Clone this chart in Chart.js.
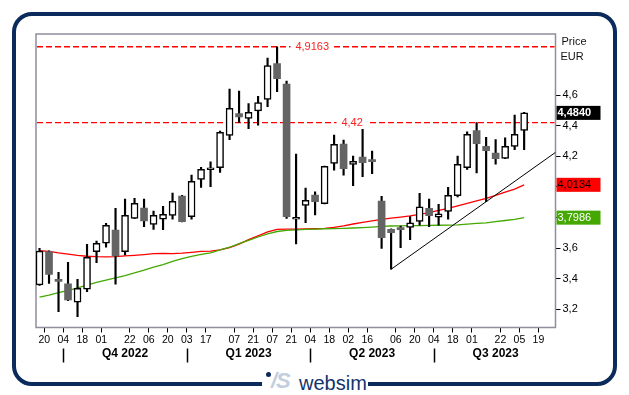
<!DOCTYPE html>
<html><head><meta charset="utf-8">
<script src="https://cdn.jsdelivr.net/npm/chart.js@4.4.0/dist/chart.umd.min.js"></script>
<style>
html,body{margin:0;padding:0;background:#fff;width:629px;height:395px;overflow:hidden;font-family:"Liberation Sans",Arial,sans-serif;}
#frame{position:absolute;left:12px;top:12px;width:597px;height:366px;border:4px solid #0b2b5c;border-radius:20px;}
#gap{position:absolute;left:262px;top:376px;width:106px;height:14px;background:#fff;}
.dot{position:absolute;left:266px;top:372px;width:5px;height:5px;border-radius:50%;background:#0b2b5c;}
.mark{position:absolute;left:271px;top:370px;font:italic bold 22px/22px "Liberation Sans",Arial,sans-serif;color:#c3cedd;letter-spacing:-1px;}
.word{position:absolute;left:299px;top:372px;font:20px/22px "Liberation Sans",Arial,sans-serif;color:#13336a;}
#c{position:absolute;left:0;top:0;}
</style></head>
<body>
<div id="frame"></div>
<div id="gap"></div>
<span class="dot"></span><span class="mark">/S</span><span class="word">websim</span>
<canvas id="c" width="629" height="395"></canvas>
<script>
// Weekly candles (index = week number)
const open  = [3.358,3.576,3.392,3.365,3.245,3.330,3.576,3.631,3.718,3.576,3.794,3.861,3.755,3.788,3.814,3.940,3.805,4.049,4.112,4.125,4.336,4.480,4.448,4.497,4.572,4.807,4.672,3.788,3.879,3.946,3.890,4.154,4.280,4.147,4.195,4.173,3.907,3.722,3.731,3.735,3.774,3.859,3.801,3.840,3.942,4.125,4.369,4.265,4.221,4.186,4.265,4.369];
const high  = [3.598,3.582,3.441,3.506,3.395,3.624,3.646,3.761,3.859,3.920,3.925,3.920,3.842,3.872,3.959,3.944,4.077,4.127,4.164,4.365,4.639,4.626,4.545,4.593,4.842,4.9163,4.692,4.214,3.992,3.968,4.136,4.339,4.306,4.201,4.376,4.234,3.938,3.725,3.744,3.805,3.957,3.920,3.886,3.997,4.201,4.360,4.420,4.324,4.310,4.321,4.469,4.487];
const low   = [3.356,3.369,3.184,3.255,3.151,3.315,3.504,3.605,3.363,3.554,3.792,3.739,3.722,3.720,3.788,3.770,3.788,3.997,4.001,4.095,4.308,4.421,4.380,4.404,4.524,4.622,3.794,3.626,3.765,3.816,3.888,4.110,4.077,4.007,4.066,4.086,3.598,3.461,3.602,3.654,3.750,3.739,3.750,3.788,3.935,4.114,4.092,3.903,4.149,4.184,4.243,4.243];
const close = [3.580,3.428,3.382,3.260,3.337,3.539,3.631,3.748,3.548,3.814,3.892,3.778,3.814,3.820,3.905,3.772,4.036,4.114,4.116,4.356,4.513,4.458,4.487,4.552,4.794,4.707,3.805,3.801,3.912,3.903,4.134,4.278,4.119,4.167,4.158,4.165,3.667,3.700,3.720,3.765,3.870,3.811,3.824,3.944,4.147,4.343,4.282,4.236,4.184,4.265,4.343,4.484];
// Moving averages
const maRed   = [3.582,3.578,3.568,3.560,3.552,3.546,3.543,3.542,3.543,3.548,3.552,3.557,3.563,3.565,3.563,3.566,3.572,3.578,3.580,3.588,3.602,3.625,3.655,3.680,3.705,3.722,3.724,3.724,3.725,3.726,3.728,3.735,3.745,3.757,3.767,3.777,3.788,3.795,3.802,3.810,3.820,3.832,3.846,3.860,3.876,3.892,3.909,3.925,3.945,3.965,3.985,4.0134];
const maGreen = [3.279,3.292,3.308,3.322,3.340,3.358,3.375,3.390,3.405,3.420,3.437,3.455,3.475,3.492,3.512,3.530,3.546,3.558,3.568,3.588,3.605,3.628,3.650,3.672,3.692,3.708,3.715,3.719,3.722,3.724,3.726,3.727,3.729,3.731,3.734,3.737,3.741,3.744,3.745,3.746,3.747,3.748,3.749,3.750,3.752,3.756,3.761,3.765,3.772,3.780,3.788,3.7986];
// Axis labels
const xTickPos    = [0.5,2.5,4.5,6.5,9.5,11.5,13.5,15.5,17.5,20.5,22.5,24.5,26.5,28.5,30.5,32.5,34.5,37.5,39.5,41.5,43.5,45.5,48.5,50.5,52.5];
const xTickLabels = ['20','04','18','01','22','06','20','03','17','07','21','07','21','04','18','02','16','06','20','04','18','01','22','05','19'];
const quarterLabels = ['Q4 2022','Q1 2023','Q2 2023','Q3 2023'];
const quarterStart  = [2.5,15.5,28.5,41.5,54.5];
const yTicks = [3.2,3.4,3.6,3.8,4.0,4.2,4.4,4.6];
// Horizontal levels and trend line anchors
const levels = [4.9163, 4.42];
const trendAnchors = [{x:37,y:3.461},{x:47,y:3.903}];

const X_MIN = -0.37, X_MAX = 54.3;
const slope = (trendAnchors[1].y - trendAnchors[0].y) / (trendAnchors[1].x - trendAnchors[0].x);
const trendData = [trendAnchors[0], {x:X_MAX, y:trendAnchors[0].y + slope*(X_MAX-trendAnchors[0].x)}];

Chart.defaults.font.family = '"Liberation Sans", Arial, sans-serif';
const idx = open.map((_, i) => i);
const up = idx.map(i => close[i] >= open[i]);
const fmt = (v, d) => v.toFixed(d).replace('.', ',');

const overlay = {
  id: 'overlay',
  beforeDatasetsDraw(chart) {
    const {ctx, chartArea: a, scales: {x, y}} = chart;
    ctx.save();
    ctx.setLineDash([]);
    ctx.strokeStyle = '#8e8e9e'; ctx.lineWidth = 1.5;
    ctx.strokeRect(a.left, a.top, a.right - a.left, a.bottom - a.top);
    const labelPos = [28.7, 32.9];
    levels.forEach((lv, i) => {
      const py = y.getPixelForValue(lv);
      ctx.save();
      ctx.strokeStyle = 'rgb(255,0,0)';
      ctx.lineWidth = 1.4;
      ctx.setLineDash([6, 3]);
      ctx.beginPath(); ctx.moveTo(a.left + 1, py); ctx.lineTo(a.right - 1, py); ctx.stroke();
      ctx.restore();
      const t = lv.toString().replace('.', ',');
      const px = x.getPixelForValue(labelPos[i]);
      ctx.font = '11px "Liberation Sans", Arial, sans-serif';
      ctx.textAlign = 'center'; ctx.textBaseline = 'middle';
      const w = ctx.measureText(t).width + 10;
      ctx.fillStyle = '#fff'; ctx.fillRect(px - w/2, py - 6, w, 12);
      ctx.fillStyle = '#ff2020'; ctx.fillText(t, px, py);
    });
    ctx.restore();
  },
  afterDraw(chart) {
    const {ctx, chartArea: a, scales: {x, y}} = chart;
    ctx.save();
    ctx.setLineDash([]);
    ctx.strokeStyle = '#000'; ctx.lineWidth = 1.5;
    ctx.font = 'bold 12px "Liberation Sans", Arial, sans-serif';
    ctx.textAlign = 'center'; ctx.textBaseline = 'middle'; ctx.fillStyle = '#000';
    quarterLabels.forEach((q, i) => {
      const px = Math.round(x.getPixelForValue(quarterStart[i])) + 0.5;
      ctx.beginPath(); ctx.moveTo(px, a.bottom + 21); ctx.lineTo(px, a.bottom + 35); ctx.stroke();
      const cx = x.getPixelForValue((quarterStart[i] + quarterStart[i+1]) / 2);
      ctx.fillText(q, cx, a.bottom + 26);
    });
    ctx.font = '11px "Liberation Sans", Arial, sans-serif';
    ctx.textAlign = 'left'; ctx.fillStyle = '#111';
    ctx.fillText('Price', a.right + 6, 42);
    ctx.fillText('EUR', a.right + 5, 57);
    const last = close.length - 1;
    const boxes = [
      {v: close[last], bg: '#000', fg: '#fff', bold: true},
      {v: maRed[last], bg: '#ff0000', fg: '#000', bold: false},
      {v: maGreen[last], bg: '#44a800', fg: '#fff', bold: false}
    ];
    boxes.forEach(b => {
      const py = y.getPixelForValue(b.v);
      ctx.fillStyle = b.bg; ctx.fillRect(a.right + 1, py - 7, 44, 14);
      ctx.fillStyle = b.fg;
      ctx.font = (b.bold ? 'bold ' : '') + '11px "Liberation Sans", Arial, sans-serif';
      ctx.fillText(fmt(b.v, 4), a.right + 2, py + 0.5);
    });
    ctx.restore();
  }
};

new Chart(document.getElementById('c').getContext('2d'), {
  type: 'bar',
  data: { datasets: [
    { type: 'bar', data: idx.map(i => ({x: i, y: [open[i], close[i]]})),
      backgroundColor: idx.map(i => up[i] ? '#ffffff' : '#646464'),
      borderColor: idx.map(i => up[i] ? '#000000' : '#646464'),
      borderWidth: idx.map(i => up[i] ? 1.5 : 0),
      borderSkipped: false, barThickness: 7, minBarLength: 2, grouped: false, order: 0 },
    { type: 'bar', data: idx.map(i => ({x: i, y: [low[i], high[i]]})),
      backgroundColor: '#000', barThickness: 1.5, grouped: false, order: 1 },
    { type: 'line', data: trendData, borderColor: '#000', borderWidth: 1, pointRadius: 0, order: 2 },
    { type: 'line', data: idx.map(i => ({x: i, y: maGreen[i]})), borderColor: '#44a800', borderWidth: 1.3, pointRadius: 0, tension: 0, order: 3 },
    { type: 'line', data: idx.map(i => ({x: i, y: maRed[i]})), borderColor: '#ff0000', borderWidth: 1.3, pointRadius: 0, tension: 0, order: 4 }
  ]},
  options: {
    responsive: false, animation: false, devicePixelRatio: 1, events: [],
    layout: { padding: { left: 36, top: 34, right: 23.5, bottom: 47.5 } },
    plugins: { legend: { display: false }, tooltip: { enabled: false } },
    scales: {
      x: { type: 'linear', min: X_MIN, max: X_MAX, offset: false,
        afterBuildTicks: s => { s.ticks = xTickPos.map(v => ({value: v})); },
        afterFit: s => { s.height = 20; },
        ticks: { autoSkip: false, maxRotation: 0, padding: 1, color: '#000', font: {size: 10.5},
          callback: (v, i) => xTickLabels[i] },
        grid: { offset: false, drawOnChartArea: false, drawTicks: true, tickLength: 5, tickColor: '#000' },
        border: { display: false } },
      y: { position: 'right', min: 3.08, max: 5.0, beginAtZero: false,
        afterBuildTicks: s => { s.ticks = yTicks.map(v => ({value: v})); },
        afterFit: s => { s.width = 50; },
        ticks: { padding: 2, color: '#000', font: {size: 11}, callback: v => fmt(v, 1) },
        grid: { drawOnChartArea: false, drawTicks: true, tickLength: 5, tickColor: '#000' },
        border: { display: false } }
    }
  },
  plugins: [overlay]
});
</script>
</body></html>
